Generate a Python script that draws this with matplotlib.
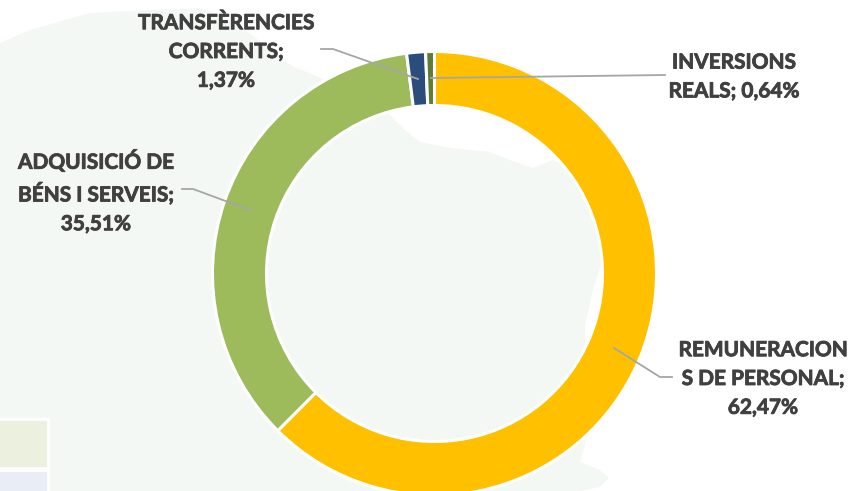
import matplotlib
matplotlib.use('Agg')
import matplotlib.pyplot as plt
import matplotlib.patheffects as pe
from matplotlib.patches import Polygon, Rectangle

# values of the doughnut, clockwise from 12 o'clock
categories = ['REMUNERACIONS DE PERSONAL', 'ADQUISICIÓ DE BÉNS I SERVEIS',
              'TRANSFÈRENCIES CORRENTS', 'INVERSIONS REALS']
values = [62.47, 35.51, 1.37, 0.64]
colors = ['#FFC000', '#9DBB5B', '#2A4D7C', '#5F7C33']
labels = ['REMUNERACION\nS DE PERSONAL;\n62,47%',
          'ADQUISICIÓ DE\nBÉNS I SERVEIS;\n35,51%',
          'TRANSFÈRENCIES\nCORRENTS;\n1,37%',
          'INVERSIONS\nREALS; 0,64%']

W, H = 851, 491
TEXT = '#404040'
LEADER = '#A6A6A6'


def flip(points):
    return [(x, H - y) for x, y in points]


fig = plt.figure(figsize=(W / 100, H / 100), dpi=100, facecolor='white')
ax = fig.add_axes([0, 0, 1, 1])

# pale map behind the chart
map_outline = [(0, 43), (30, 30), (90, 13), (150, 10), (200, 8), (225, 17), (245, 30), (292, 66),
               (350, 90), (390, 115), (405, 130), (420, 142), (450, 148), (490, 152), (510, 160),
               (533, 168), (553, 160), (585, 175), (604, 225), (604, 255), (593, 290), (585, 325),
               (585, 380), (585, 445), (580, 462), (600, 470), (609, 478), (600, 487), (580, 491),
               (0, 491)]
ax.add_patch(Polygon(flip(map_outline), closed=True, facecolor='#F3F8F5', edgecolor='none', zorder=0))

# bits of table cells in the lower left corner
ax.add_patch(Rectangle((-3, H - 468), 51, 49, facecolor='#ECF0DF', edgecolor='white', lw=2, zorder=1))
ax.add_patch(Rectangle((-3, H - 495), 51, 25, facecolor='#E9EDF5', edgecolor='white', lw=2, zorder=1))

ax.pie(values, colors=colors, startangle=90, counterclock=False, center=(434.5, H - 273.5),
       radius=222, wedgeprops=dict(width=54, edgecolor='white', linewidth=2.2, zorder=2))

# leader lines
leaders = [[(614, 348), (660, 377), (672, 377)],
           [(250, 210), (193, 189), (182, 189)],
           [(418, 79), (333, 49), (321, 49)],
           [(431, 78), (665, 75)]]
for line in leaders:
    xs, ys = zip(*flip(line))
    ax.plot(xs, ys, color=LEADER, lw=1.3, solid_joinstyle='round', zorder=3)

label_pos = [(763, 379), (96, 192), (226, 52), (734, 77)]
for text, (x, y) in zip(labels, label_pos):
    t = ax.text(x, H - y, text, ha='center', va='center', family='Lato', fontweight='bold',
                fontsize=15, color=TEXT, linespacing=1.55, zorder=4)
    # the original face is heavier than Lato Bold
    t.set_path_effects([pe.withStroke(linewidth=0.6, foreground=TEXT)])

ax.set_xlim(0, W)
ax.set_ylim(0, H)
ax.set_aspect('auto')
ax.axis('off')

fig.savefig('out.png', dpi=100, facecolor='white')
